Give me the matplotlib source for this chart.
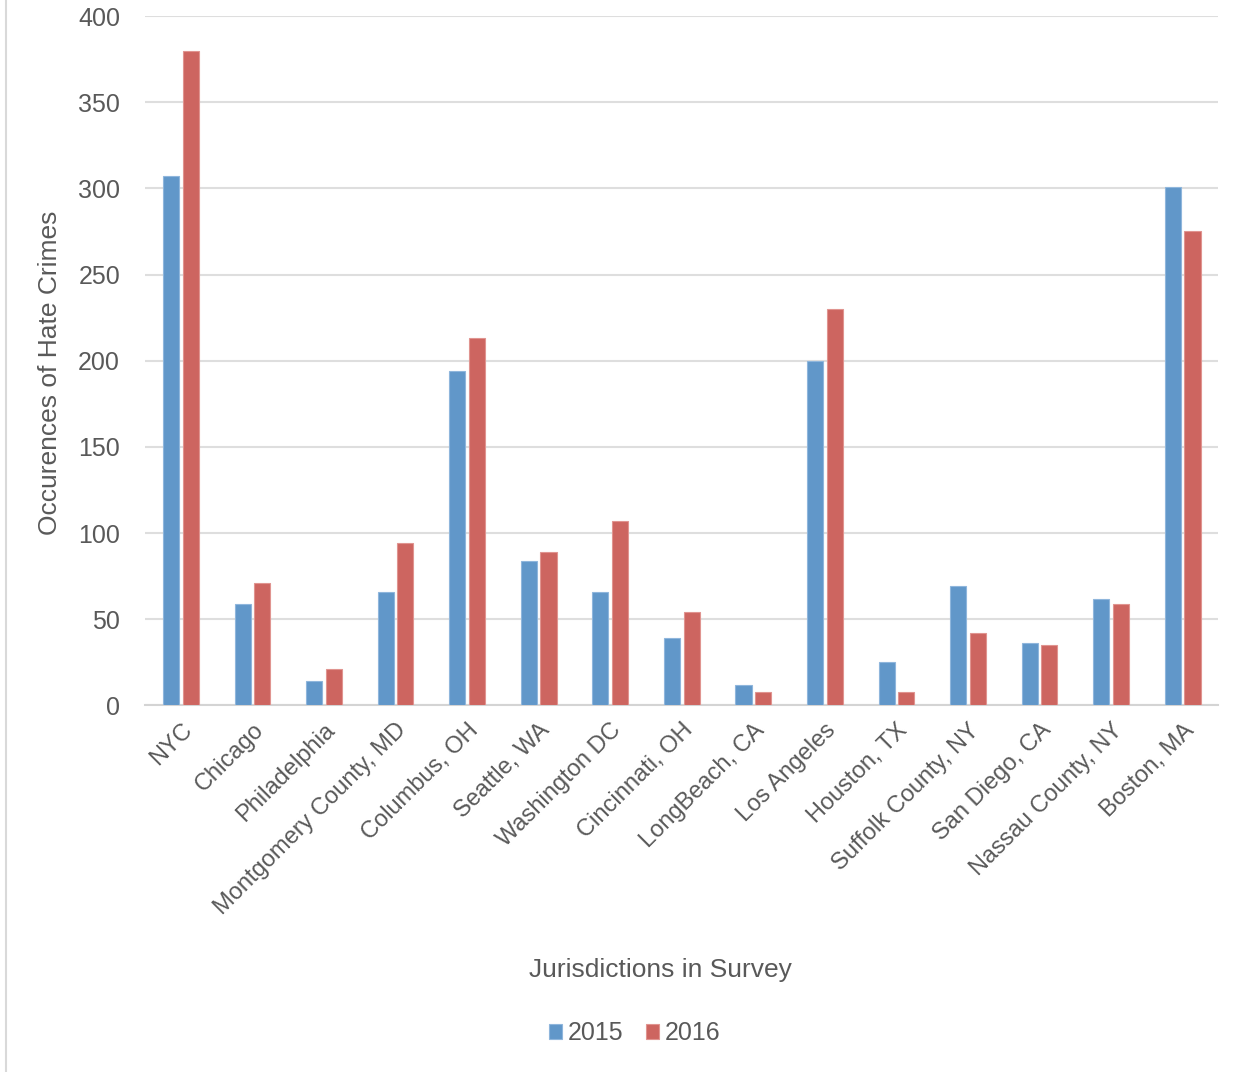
import numpy as np
import matplotlib.pyplot as plt
from matplotlib.lines import Line2D

BLUE = '#6197c9'
RED = '#cd6560'
GRAY = '#595959'
GRID = '#dedede'

plt.rcParams['font.family'] = ['Liberation Sans', 'DejaVu Sans']
plt.rcParams['text.color'] = GRAY
plt.rcParams['axes.labelcolor'] = GRAY
plt.rcParams['xtick.color'] = GRAY
plt.rcParams['ytick.color'] = GRAY

cities = ["NYC", "Chicago", "Philadelphia", "Montgomery County, MD", "Columbus, OH",
          "Seattle, WA", "Washington DC", "Cincinnati, OH", "LongBeach, CA",
          "Los Angeles", "Houston, TX", "Suffolk County, NY", "San Diego, CA",
          "Nassau County, NY", "Boston, MA"]
y2015 = [307, 59, 14, 66, 194, 84, 66, 39, 12, 200, 25, 69, 36, 62, 301]
y2016 = [380, 71, 21, 94, 213, 89, 107, 54, 8, 230, 8, 42, 35, 59, 275]

x = np.arange(len(cities))
w = 0.225
gap = 0.05

fig = plt.figure(figsize=(12.51, 10.72), dpi=100)
ax = fig.add_axes([0.116, 0.342, 0.858, 0.643])

ax.bar(x - (w + gap) / 2, y2015, w, color=BLUE, edgecolor='#8fb6dc',
       linewidth=0.8, label='2015', zorder=3)
ax.bar(x + (w + gap) / 2, y2016, w, color=RED, edgecolor='#e09490',
       linewidth=0.8, label='2016', zorder=3)

ax.set_xlim(-0.5, len(cities) - 0.5)
ax.set_ylim(0, 400)
ax.set_yticks(range(0, 401, 50))
ax.yaxis.grid(True, color=GRID, linewidth=1.5, zorder=0)
for s in ['top', 'right', 'left']:
    ax.spines[s].set_visible(False)
ax.spines['bottom'].set_color('#d4d4d4')
ax.spines['bottom'].set_linewidth(1.5)
ax.tick_params(axis='both', length=0)
ax.tick_params(axis='y', labelsize=18, pad=18)
ax.tick_params(axis='x', labelsize=17, pad=10)

ax.set_xticks(x)
ax.set_xticklabels(cities, rotation=45, ha='right', rotation_mode='anchor')

ax.set_ylabel('Occurences of Hate Crimes', fontsize=19, va='center')
ax.yaxis.set_label_coords(-0.0885, 0.483)

fig.text(0.528, 1 - 970 / 1072, 'Jurisdictions in Survey', ha='center',
         va='center', fontsize=19)

fig.legend(loc='center', bbox_to_anchor=(0.507, 1 - 1033 / 1072), ncol=2,
           frameon=False, fontsize=18, handlelength=0.55, handleheight=0.55,
           handletextpad=0.2, columnspacing=0.9)

# thin border line on the left edge of the picture
fig.add_artist(Line2D([0.005, 0.005], [0, 1], color='#d9d9d9', linewidth=1.5,
                      transform=fig.transFigure))

fig.savefig('out.png', dpi=100)
